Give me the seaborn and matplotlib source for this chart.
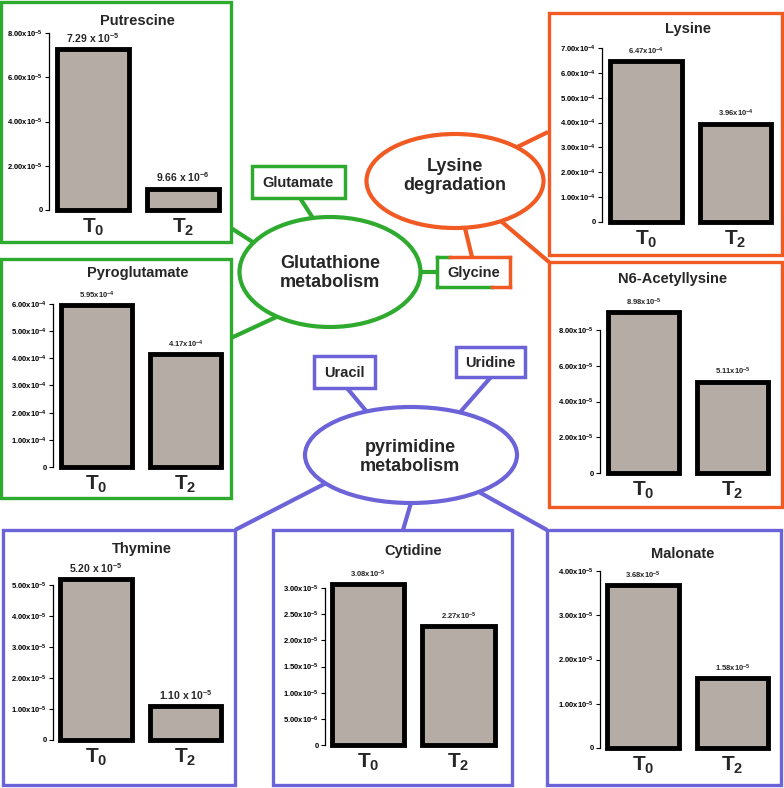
import numpy as np
import pandas as pd
import seaborn as sns
import matplotlib.pyplot as plt
from matplotlib.patches import Rectangle, Ellipse
from matplotlib.ticker import MultipleLocator, FuncFormatter

# data
metabolites = ['Putrescine', 'Pyroglutamate', 'Lysine', 'N6-Acetyllysine',
               'Thymine', 'Cytidine', 'Malonate']
timepoints = ['T$_0$', 'T$_2$']
t0_values = [7.29e-5, 5.95e-4, 6.47e-4, 8.98e-5, 5.20e-5, 3.08e-5, 3.68e-5]
t2_values = [9.66e-6, 4.17e-4, 3.96e-4, 5.11e-5, 1.10e-5, 2.27e-5, 1.58e-5]
tick_max = [8e-5, 6e-4, 7e-4, 8e-5, 5e-5, 3e-5, 4e-5]
tick_step = [2e-5, 1e-4, 1e-4, 2e-5, 1e-5, 5e-6, 1e-5]
pathways = ['Glutathione\nmetabolism', 'Lysine\ndegradation', 'pyrimidine\nmetabolism']
compounds = ['Glutamate', 'Glycine', 'Uracil', 'Uridine']

GREEN = '#2eab2e'
ORANGE = '#f15a22'
BLUE = '#6c63d9'
BAR = '#b5aca6'

sns.set_style('ticks')
plt.rcParams['font.family'] = ['Liberation Sans', 'DejaVu Sans']
plt.rcParams['font.weight'] = 'bold'
plt.rcParams['mathtext.default'] = 'regular'

W, H = 784, 788
fig = plt.figure(figsize=(W / 100, H / 100), dpi=100)
bg = fig.add_axes([0, 0, 1, 1])
bg.set_xlim(0, W)
bg.set_ylim(H, 0)
bg.axis('off')


def sci(v, spaced=False):
    if v < -1e-12:
        return ''
    if abs(v) < 1e-12:
        return '0'
    e = int(np.floor(np.log10(v) + 1e-9))
    m = v / 10 ** e
    sep = ' ' if spaced else ''
    return f'{m:.2f}{sep}x{sep}10$^{{{e}}}$'


# panel layout in pixels: box, colour, y-axis x, bar centres, zero y, top tick y, title
layout = [
    dict(box=(1, 2, 231, 242), col=GREEN, sx=49, c=(93, 183), y0=210, y1=33, title=(137, 21), spaced=True),
    dict(box=(1, 259, 231, 498), col=GREEN, sx=53, c=(96.5, 185.5), y0=467, y1=304, title=(138, 273), spaced=False),
    dict(box=(549, 13, 782, 255), col=ORANGE, sx=602, c=(646, 735.5), y0=222, y1=48, title=(688, 29), spaced=False),
    dict(box=(549, 262, 782, 507), col=ORANGE, sx=600, c=(643.5, 732.5), y0=473, y1=330, title=(673, 279), spaced=False),
    dict(box=(3, 530, 235, 785), col=BLUE, sx=53, c=(96, 185.5), y0=740, y1=585, title=(142, 549), spaced=True),
    dict(box=(273, 530, 512, 785), col=BLUE, sx=325, c=(368, 458.5), y0=745, y1=588, title=(413, 551), spaced=False),
    dict(box=(547, 530, 781, 785), col=BLUE, sx=600, c=(643, 732.5), y0=748, y1=571, title=(683, 554), spaced=False),
]

# connector lines (drawn under the white shapes)
links = [
    (GREEN, (231, 228), (262, 248)),
    (GREEN, (231, 338), (285, 313)),
    (GREEN, (300, 198), (318, 226)),
    (GREEN, (410, 272), (437, 272)),
    (ORANGE, (548, 132), (505, 153)),
    (ORANGE, (549, 262), (495, 216)),
    (ORANGE, (472, 257), (463, 220)),
    (BLUE, (347, 388), (372, 418)),
    (BLUE, (491, 377), (455, 418)),
    (BLUE, (235, 530), (332, 480)),
    (BLUE, (403, 530), (413, 496)),
    (BLUE, (547, 530), (470, 487)),
]
for col, a, b in links:
    bg.plot([a[0], b[0]], [a[1], b[1]], color=col, lw=3, solid_capstyle='butt', zorder=1)

# pathway ellipses
ell = [((330, 272), 181, 110, GREEN, (330, 273)),
       ((455, 181), 177, 94, ORANGE, (455, 176)),
       ((411, 455), 212, 96, BLUE, (410, 457))]
for (cen, w, h, col, tpos), label in zip(ell, pathways):
    bg.add_patch(Ellipse(cen, w, h, fc='white', ec=col, lw=3, zorder=2))
    bg.text(*tpos, label, ha='center', va='center', fontsize=13, linespacing=1.15, zorder=3)

# compound boxes
cboxes = [((252, 166, 345, 198), GREEN), None,
          ((314, 356, 375, 388), BLUE), ((456, 347, 525, 377), BLUE)]
for cb, label in zip(cboxes, compounds):
    if cb is None:
        x0, y0, x1, y1 = 437, 257, 510, 287
        bg.add_patch(Rectangle((x0, y0), x1 - x0, y1 - y0, fc='white', ec='none', zorder=2))
        segs = [(GREEN, (x0, y0), (x0, y1)), (GREEN, (x0, y0), (450, y0)),
                (ORANGE, (450, y0), (x1, y0)), (GREEN, (x0, y1), (492, y1)),
                (ORANGE, (492, y1), (x1, y1)), (ORANGE, (x1, y0), (x1, y1))]
        for col, a, b in segs:
            bg.plot([a[0], b[0]], [a[1], b[1]], color=col, lw=2.5,
                    solid_capstyle='projecting', zorder=3)
    else:
        (x0, y0, x1, y1), col = cb
        bg.add_patch(Rectangle((x0, y0), x1 - x0, y1 - y0, fc='white', ec=col, lw=2.5, zorder=2))
    bg.text((x0 + x1) / 2, (y0 + y1) / 2 + 1, label, ha='center', va='center',
            fontsize=10.5, zorder=4)

# bar panels
for i, name in enumerate(metabolites):
    L = layout[i]
    x0, y0, x1, y1 = L['box']
    bg.add_patch(Rectangle((x0, y0), x1 - x0, y1 - y0, fc='white', ec=L['col'], lw=2.4, zorder=2))
    bg.text(*L['title'], name, ha='center', va='center', fontsize=10.5, zorder=4)

    c1, c2 = L['c']
    u = c2 - c1
    ax = fig.add_axes([L['sx'] / W, 1 - L['y0'] / H, 2 * u / W, (L['y0'] - L['y1']) / H])
    ax.patch.set_alpha(0)
    df = pd.DataFrame({'time': timepoints, 'value': [t0_values[i], t2_values[i]]})
    sns.barplot(data=df, x='time', y='value', ax=ax, color=BAR, saturation=1,
                edgecolor='black', linewidth=3.5, width=0.8)
    for p in ax.patches:
        p.set_clip_on(False)
    xl = -(c1 - L['sx']) / u
    ax.set_xlim(xl, xl + 2)
    ax.set_ylim(0, tick_max[i])
    ax.yaxis.set_major_locator(MultipleLocator(tick_step[i]))
    ax.yaxis.set_major_formatter(FuncFormatter(lambda v, p: sci(v)))
    ax.set_xlabel('')
    ax.set_ylabel('')
    sns.despine(ax=ax, bottom=True)
    ax.spines['left'].set_linewidth(0.9)
    ax.spines['left'].set_color('black')
    ax.tick_params(axis='y', length=3, width=0.8, labelsize=5.5, pad=1.5, colors='black')
    ax.tick_params(axis='x', length=0, labelsize=15, pad=5)
    fs = 7.5 if L['spaced'] else 5.5
    for j, v in enumerate([t0_values[i], t2_values[i]]):
        ax.annotate(sci(v, L['spaced']), (j, v), xytext=(0, 3), textcoords='offset points',
                    ha='center', va='bottom', fontsize=fs, annotation_clip=False)

fig.savefig('out.png', dpi=100)
